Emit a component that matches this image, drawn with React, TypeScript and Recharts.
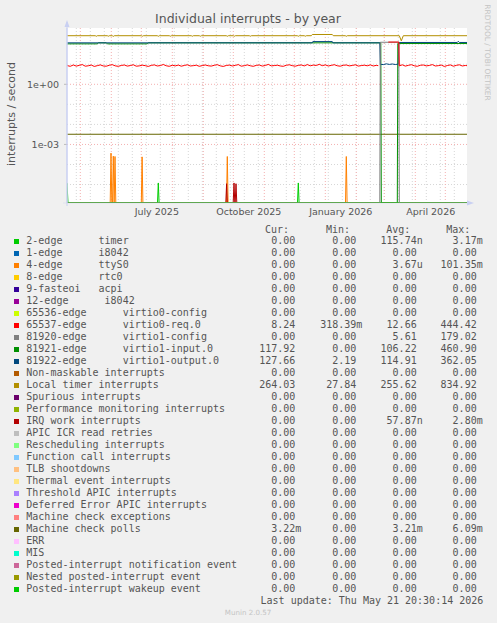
import React from 'react';
import { LineChart, Line, XAxis, YAxis, ReferenceLine } from 'recharts';

// x values are days counted from 1 July 2025, y values are interrupts / second
const FLOOR = 1.2e-6; // where rrdtool puts zero on a log axis
const Y_TOP = 643;
const DAY_START = -74.3;
const DAY_END = 325.7;

const xTickDays = [15.5, 107.5, 199.5, 289.5];
const xTickLabels = ['July 2025', 'October 2025', 'January 2026', 'April 2026'];
const monthStartDays = [-61, -30, 0, 31, 62, 92, 123, 153, 184, 215, 243, 274, 304];
const fortnightDays = [
  -65, -51, -37, -23, -9, 5, 19, 33, 47, 61, 75, 89, 103, 117, 131, 145, 159, 173, 187, 201,
  215, 229, 243, 257, 271, 285, 299, 313,
];
const majorDecades = [1, 0.001];
const minorDecades = [100, 10, 0.1, 0.01, 1e-4, 1e-5];

type Pt = [number, number | null];

const localTimer: Pt[] = [
  [-74.3, 265], [-46, 265], [-45, 248], [-44, 265], [-34, 265], [-33, 250], [-32, 265],
  [-29, 265], [-28, 246], [-27, 265], [0, 265], [1, 250], [2, 265], [16, 265], [17, 248],
  [18, 265], [28, 265], [29, 250], [30, 265], [50, 265], [51, 249], [52, 265], [58, 265],
  [59, 250], [60, 265], [85, 265], [86, 248], [87, 265], [92, 265], [93, 250], [94, 265],
  [108, 265], [109, 250], [110, 265], [156, 265], [157, 249], [158, 265], [163, 265],
  [164, 250], [165, 265], [170, 265], [171, 305], [191, 305], [192, 265], [204, 265],
  [205, 248], [206, 265], [258, 265], [260, 147], [262, 265], [325.7, 265],
];

const virtio0Req: Pt[] = [
  [-74.3, 8.6], [-71, 7.9], [-68, 9.2], [-65, 8.1], [-62, 8.8], [-59, 9.6], [-56, 8.0],
  [-53, 8.4], [-50, 9.1], [-47, 7.8], [-44, 8.5], [-41, 9.3], [-38, 8.2], [-35, 8.0],
  [-32, 8.9], [-29, 9.5], [-26, 8.3], [-23, 7.9], [-20, 8.7], [-17, 9.2], [-14, 8.1],
  [-11, 8.6], [-8, 9.4], [-5, 8.0], [-2, 8.3], [1, 9.0], [4, 8.5], [7, 7.8], [10, 8.8],
  [13, 9.3], [16, 8.2], [19, 8.6], [22, 9.7], [25, 8.4], [28, 7.9], [31, 8.9], [34, 8.3],
  [37, 9.1], [40, 8.0], [43, 8.7], [46, 9.4], [49, 8.2], [52, 8.5], [55, 9.0], [58, 7.9],
  [61, 8.6], [64, 9.2], [67, 8.4], [70, 8.1], [73, 8.9], [76, 9.5], [79, 8.3], [82, 7.8],
  [85, 8.7], [88, 9.1], [91, 8.2], [94, 8.8], [97, 9.6], [100, 8.0], [103, 8.5], [106, 9.3],
  [109, 8.4], [112, 7.9], [115, 8.8], [118, 9.2], [121, 8.1], [124, 8.7], [127, 9.8],
  [130, 8.3], [133, 8.6], [136, 9.0], [139, 8.2], [142, 7.9], [145, 8.9], [148, 9.4],
  [151, 8.5], [154, 8.0], [157, 8.8], [160, 9.2], [163, 8.3], [166, 9.6], [169, 8.4],
  [172, 9.1], [175, 8.7], [178, 9.9], [181, 8.5], [184, 9.3], [187, 8.2], [190, 8.8],
  [193, 9.5], [196, 8.4], [199, 8.0], [202, 8.9], [205, 9.2], [208, 8.3], [211, 8.7],
  [214, 9.4], [217, 8.1], [220, 8.6], [223, 9.0], [226, 8.4], [229, 9.3], [232, 8.2],
  [235, 8.8], [237, 8.5], [238, null], [247, 128], [257.5, 128], [258, 8.3], [261, 9.4],
  [264, 8.1], [267, 8.8], [270, 9.5], [273, 8.4], [276, 7.9], [279, 8.9], [282, 9.2],
  [285, 8.3], [288, 8.7], [291, 9.6], [294, 8.2], [297, 8.5], [300, 9.1], [303, 7.8],
  [306, 8.6], [309, 9.3], [312, 8.0], [315, 8.8], [318, 9.4], [321, 8.2], [324, 8.7],
  [325.7, 8.5],
];

const virtio1Config: Pt[] = [
  [DAY_START, 0], [238.5, 0], [239, 125], [257.5, 125], [258, 0], [DAY_END, 0],
];

const virtio1Input: Pt[] = [
  [DAY_START, 104], [-44, 104], [-43, 117], [-35, 117], [-34, 104], [6, 104], [7, 117],
  [239.5, 117], [240, 0], [256, 0], [256.5, 108], [DAY_END, 108],
];

const virtio1Output: Pt[] = [
  [DAY_START, 117], [171, 117], [171.5, 135], [191, 135], [191.5, 117], [238.5, 117],
  [239, 10], [242, 9.6], [245, 10.5], [248, 9.8], [251, 10.3], [254, 9.7], [257, 10.2],
  [257.5, 122], [316, 122], [317, 140], [318, 122], [DAY_END, 122],
];

const machineCheckPolls: Pt[] = [[DAY_START, 3.22e-3], [DAY_END, 3.22e-3]];

const timerSpikes: Pt[] = [
  [DAY_START, 1.2e-5], [-73.3, 0], [16.2, 0], [17, 1.2e-5], [17.8, 0], [156.2, 0],
  [157, 1.2e-5], [157.8, 0], [DAY_END, 0],
];

const ttyS0Spikes: Pt[] = [
  [DAY_START, 0], [-31.1, 0], [-30.3, 3.7e-4], [-29.5, 0], [-28.8, 0], [-28, 2.6e-4],
  [-27.2, 0], [-27.1, 0], [-26.3, 2.5e-4], [-25.5, 0], [0, 0], [0.8, 2.4e-4], [1.6, 0],
  [85.2, 0], [86, 2.5e-4], [86.8, 0], [204.2, 0], [205, 2.5e-4], [205.8, 0], [DAY_END, 0],
];

const irqWorkSpikes: Pt[] = [
  [DAY_START, 0], [84.5, 0], [85.3, 1.1e-5], [86.1, 0], [91.9, 0], [92.7, 1.2e-5],
  [93.5, 0], [93.9, 0], [94.7, 1.1e-5], [95.5, 0], [DAY_END, 0],
];

const wakeupZeros: Pt[] = [[DAY_START, 0], [DAY_END, 0]];

const legendNames = [
  '2-edge      timer', '1-edge      i8042', '4-edge      ttyS0', '8-edge      rtc0',
  '9-fasteoi   acpi', '12-edge      i8042', '65536-edge      virtio0-config',
  '65537-edge      virtio0-req.0', '81920-edge      virtio1-config',
  '81921-edge      virtio1-input.0', '81922-edge      virtio1-output.0',
  'Non-maskable interrupts', 'Local timer interrupts', 'Spurious interrupts',
  'Performance monitoring interrupts', 'IRQ work interrupts', 'APIC ICR read retries',
  'Rescheduling interrupts', 'Function call interrupts', 'TLB shootdowns',
  'Thermal event interrupts', 'Threshold APIC interrupts', 'Deferred Error APIC interrupts',
  'Machine check exceptions', 'Machine check polls', 'ERR', 'MIS',
  'Posted-interrupt notification event', 'Nested posted-interrupt event',
  'Posted-interrupt wakeup event',
];
const legendColors = [
  '#00CC00', '#0066B3', '#FF8000', '#FFCC00', '#330099', '#990099', '#CCFF00', '#FF0000',
  '#808080', '#008F00', '#00487D', '#B35A00', '#B38F00', '#6B006B', '#8FB300', '#B30000',
  '#BEBEBE', '#80FF80', '#80C9FF', '#FFC080', '#FFE680', '#AA80FF', '#EE00CC', '#FF8080',
  '#666600', '#FFBFFF', '#00FFCC', '#CC6699', '#999900', '#00CC00',
];
const Z = '0.00';
const curValues = [Z, Z, Z, Z, Z, Z, Z, '8.24', Z, '117.92', '127.66', Z, '264.03', Z, Z, Z, Z, Z, Z, Z, Z, Z, Z, Z, '3.22m', Z, Z, Z, Z, Z];
const minValues = [Z, Z, Z, Z, Z, Z, Z, '318.39m', Z, Z, '2.19', Z, '27.84', Z, Z, Z, Z, Z, Z, Z, Z, Z, Z, Z, Z, Z, Z, Z, Z, Z];
const avgValues = ['115.74n', Z, '3.67u', Z, Z, Z, Z, '12.66', '5.61', '106.22', '114.91', Z, '255.62', Z, Z, '57.87n', Z, Z, Z, Z, Z, Z, Z, Z, '3.21m', Z, Z, Z, Z, Z];
const maxValues = ['3.17m', Z, '101.35m', Z, Z, Z, Z, '444.42', '179.02', '460.90', '362.05', Z, '834.92', Z, Z, '2.80m', Z, Z, Z, Z, Z, Z, Z, Z, '6.09m', Z, Z, Z, Z, Z];
const columnHeads = ['Cur:', 'Min:', 'Avg:', 'Max:'];
const columnRight = [301.3, 362.3, 422.7, 482.7];

const toPoints = (rows: Pt[]) =>
  rows.map(([x, v]) => ({ x, v: v === null ? null : Math.max(v, FLOOR) }));

const W = 497;
const H = 623;
const mono = "'DejaVu Sans Mono', monospace";
const sans = "'DejaVu Sans', sans-serif";
const textGray = '#555';
const axisBlue = '#c9d0f2';
const gridGray = '#d6d6d6';
const gridRed = '#f4b0b0';

const decadeLabel = (v: number) => {
  const e = Math.round(Math.log10(v));
  return `1e${e < 0 ? '-' : '+'}${String(Math.abs(e)).padStart(2, '0')}`;
};

const withUnit = (s: string) => (/[0-9]$/.test(s) ? s + ' ' : s);

export default function App() {
  const series = [
    { key: 'ttyS0', data: ttyS0Spikes, color: '#FF8000' },
    { key: 'timer', data: timerSpikes, color: '#00CC00' },
    { key: 'irqwork', data: irqWorkSpikes, color: '#B30000' },
    { key: 'mcpolls', data: machineCheckPolls, color: '#666600' },
    { key: 'input', data: virtio1Input, color: '#008F00' },
    { key: 'output', data: virtio1Output, color: '#00487D' },
    { key: 'config', data: virtio1Config, color: '#808080' },
    { key: 'req', data: virtio0Req, color: '#FF0000' },
    { key: 'localtimer', data: localTimer, color: '#B38F00' },
    { key: 'zeros', data: wakeupZeros, color: '#00CC00' },
  ];

  const rowTop = (i: number) => 235 + 12 * i;
  const textStyle: React.CSSProperties = {
    position: 'absolute',
    fontFamily: mono,
    fontSize: 10,
    lineHeight: '12px',
    color: textGray,
    whiteSpace: 'pre',
  };

  return (
    <div style={{ position: 'absolute', left: 0, top: 0, width: W, height: H, background: '#f0f0f0', overflow: 'hidden' }}>
      {/* plot background */}
      <div style={{ position: 'absolute', left: 67, top: 28, width: 400, height: 175, background: '#fff' }} />

      <div style={{ position: 'absolute', left: 0, top: 0 }}>
        <LineChart width={W} height={224} margin={{ top: 28, right: 30, bottom: 0, left: 7 }}>
          <XAxis
            type="number"
            dataKey="x"
            domain={[DAY_START, DAY_END]}
            allowDataOverflow
            ticks={xTickDays}
            tickFormatter={(v: number) => xTickLabels[xTickDays.indexOf(v)] ?? ''}
            axisLine={false}
            tickLine={false}
            tickSize={0}
            tickMargin={5.5}
            height={21}
            interval={0}
            tick={{ fill: textGray, fontSize: 9.5, fontFamily: sans }}
          />
          <YAxis
            type="number"
            scale="log"
            domain={[FLOOR, Y_TOP]}
            allowDataOverflow
            ticks={majorDecades}
            tickFormatter={decadeLabel}
            width={60}
            tickSize={3}
            tickMargin={5}
            axisLine={{ stroke: axisBlue }}
            tickLine={{ stroke: '#bbb' }}
            tick={{ fill: textGray, fontSize: 9.5, fontFamily: sans }}
          />

          {minorDecades.map((d) => (
            <ReferenceLine key={`hy${d}`} y={d} stroke={gridGray} strokeDasharray="1 2" />
          ))}
          {fortnightDays.map((d) => (
            <ReferenceLine key={`vx${d}`} x={d} stroke={gridGray} strokeDasharray="1 2" />
          ))}
          {majorDecades.map((d) => (
            <ReferenceLine key={`my${d}`} y={d} stroke={gridRed} strokeDasharray="1 2" />
          ))}
          {monthStartDays.map((d) => (
            <ReferenceLine key={`mx${d}`} x={d} stroke={gridRed} strokeDasharray="1 2" />
          ))}

          {series.map((s) => (
            <Line
              key={s.key}
              data={toPoints(s.data)}
              dataKey="v"
              type="linear"
              stroke={s.color}
              strokeWidth={1}
              dot={false}
              activeDot={false}
              isAnimationActive={false}
            />
          ))}
        </LineChart>
      </div>

      {/* rrdtool frame decorations and titles */}
      <svg width={W} height={H} style={{ position: 'absolute', left: 0, top: 0, pointerEvents: 'none' }}>
        <line x1={67} y1={22} x2={67} y2={206} stroke={axisBlue} />
        <line x1={63} y1={203} x2={468} y2={203} stroke={axisBlue} strokeOpacity={0.4} />
        <polygon points="64.5,27 69.5,27 67,20" fill={axisBlue} />
        <polygon points="467,200.5 467,205.5 474,203" fill={axisBlue} />
        <text x={248} y={22.6} textAnchor="middle" fontFamily={sans} fontSize={12.5} fill={textGray}>
          Individual interrupts - by year
        </text>
        <text
          transform="translate(14.5,114) rotate(-90)"
          textAnchor="middle"
          fontFamily={sans}
          fontSize={11}
          fill={textGray}
        >
          interrupts / second
        </text>
        <text
          transform="translate(484.6,52.5) rotate(90)"
          textAnchor="middle"
          fontFamily={sans}
          fontSize={7.5}
          fill="#c4c4c4"
        >
          RRDTOOL / TOBI OETIKER
        </text>
        <text x={248} y={614.8} textAnchor="middle" fontFamily={sans} fontSize={7.1} fill="#c4c4c4">
          Munin 2.0.57
        </text>
      </svg>

      {/* legend */}
      {columnHeads.map((h, c) => (
        <div key={h} style={{ ...textStyle, top: rowTop(-1) + 0.5, right: W - columnRight[c] + 12.3 }}>
          {h}
        </div>
      ))}
      {legendNames.map((name, i) => (
        <React.Fragment key={name}>
          <div
            style={{
              position: 'absolute',
              left: 14,
              top: rowTop(i) + 4,
              width: 5,
              height: 5,
              background: legendColors[i],
            }}
          />
          <div style={{ ...textStyle, left: 26.3, top: rowTop(i) }}>{name}</div>
          {[curValues, minValues, avgValues, maxValues].map((col, c) => (
            <div key={c} style={{ ...textStyle, top: rowTop(i), right: W - columnRight[c] }}>
              {withUnit(col[i])}
            </div>
          ))}
        </React.Fragment>
      ))}
      <div style={{ ...textStyle, top: rowTop(30), right: W - 483.3 }}>
        Last update: Thu May 21 20:30:14 2026
      </div>
    </div>
  );
}
